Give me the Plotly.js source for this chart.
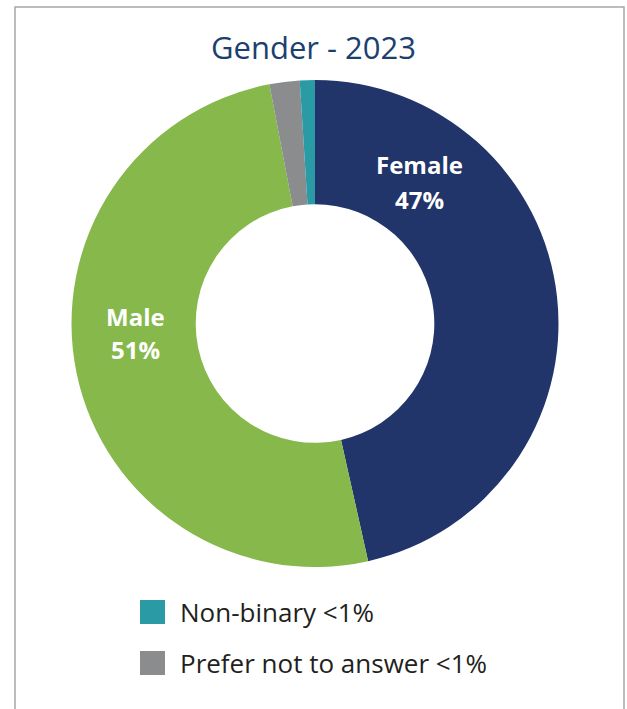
<!DOCTYPE html>
<html>
<head>
<meta charset="utf-8">
<script src="https://cdn.plot.ly/plotly-3.0.1.min.js"></script>
<style>html,body{margin:0;padding:0;background:#fff;}#chart{width:627px;height:709px;}</style>
</head>
<body>
<div id="chart"></div>
<script>
const labels = ["Female", "Male", "Prefer not to answer", "Non-binary"];
const values = [46.5, 50.5, 2.0, 1.0];
const colors = ["#21356a", "#86b84b", "#8a8c8e", "#2a9aa5"];
const legendItems = ["Non-binary", "Prefer not to answer"];
const legendTexts = ["Non-binary <1%", "Prefer not to answer <1%"];
const insideLabels = ["Female", "Male"];

const W = 627, H = 709;
const px = x => x / W;
const py = y => 1 - y / H;
const FONT = "'Open Sans', sans-serif";

const trace = {
  type: "pie",
  labels: labels,
  values: values,
  marker: {colors: colors, line: {width: 0}},
  hole: 0.49,
  sort: false,
  direction: "clockwise",
  rotation: 0,
  textinfo: "none",
  hoverinfo: "label+percent",
  showlegend: false,
  domain: {x: [px(70), px(560)], y: [py(567), py(80)]}
};

const labelPos = {"Female": [419, 165, 199], "Male": [135, 316, 349]};
const annotations = [];
insideLabels.forEach(name => {
  const i = labels.indexOf(name);
  const p = labelPos[name];
  annotations.push({xref: "paper", yref: "paper", x: px(p[0]), y: py(p[1]), text: "<b>" + name + "</b>",
    showarrow: false, xanchor: "center", yanchor: "middle", font: {family: FONT, size: 24, color: "#ffffff"}});
  annotations.push({xref: "paper", yref: "paper", x: px(p[0]), y: py(p[2]), text: "<b>" + Math.round(values[i]) + "%</b>",
    showarrow: false, xanchor: "center", yanchor: "middle", font: {family: FONT, size: 24, color: "#ffffff"}});
});

const shapes = [{
  type: "rect", xref: "paper", yref: "paper", x0: px(15), x1: px(624), y0: py(730), y1: py(7),
  line: {color: "#a6a6a6", width: 1.5}, fillcolor: "rgba(0,0,0,0)"
}];
const legendY = [612, 663];
legendItems.forEach((name, k) => {
  const i = labels.indexOf(name);
  const cy = legendY[k];
  shapes.push({type: "rect", xref: "paper", yref: "paper", x0: px(140), x1: px(165), y0: py(cy + 12), y1: py(cy - 12),
    line: {width: 0}, fillcolor: colors[i]});
  annotations.push({xref: "paper", yref: "paper", x: px(178), y: py(cy), text: legendTexts[k],
    showarrow: false, xanchor: "left", yanchor: "middle", font: {family: FONT, size: 26, color: "#231f20"}});
});

const layout = {
  width: W, height: H,
  margin: {l: 0, r: 0, t: 0, b: 0},
  paper_bgcolor: "#ffffff",
  title: {text: "Gender - 2023", x: 0.5, xanchor: "center", y: py(48), yanchor: "middle", yref: "paper",
    font: {family: FONT, size: 31, color: "#1b3f6e"}},
  shapes: shapes,
  annotations: annotations,
  showlegend: false
};

Plotly.newPlot("chart", [trace], layout, {displayModeBar: false, staticPlot: true});
</script>
</body>
</html>
